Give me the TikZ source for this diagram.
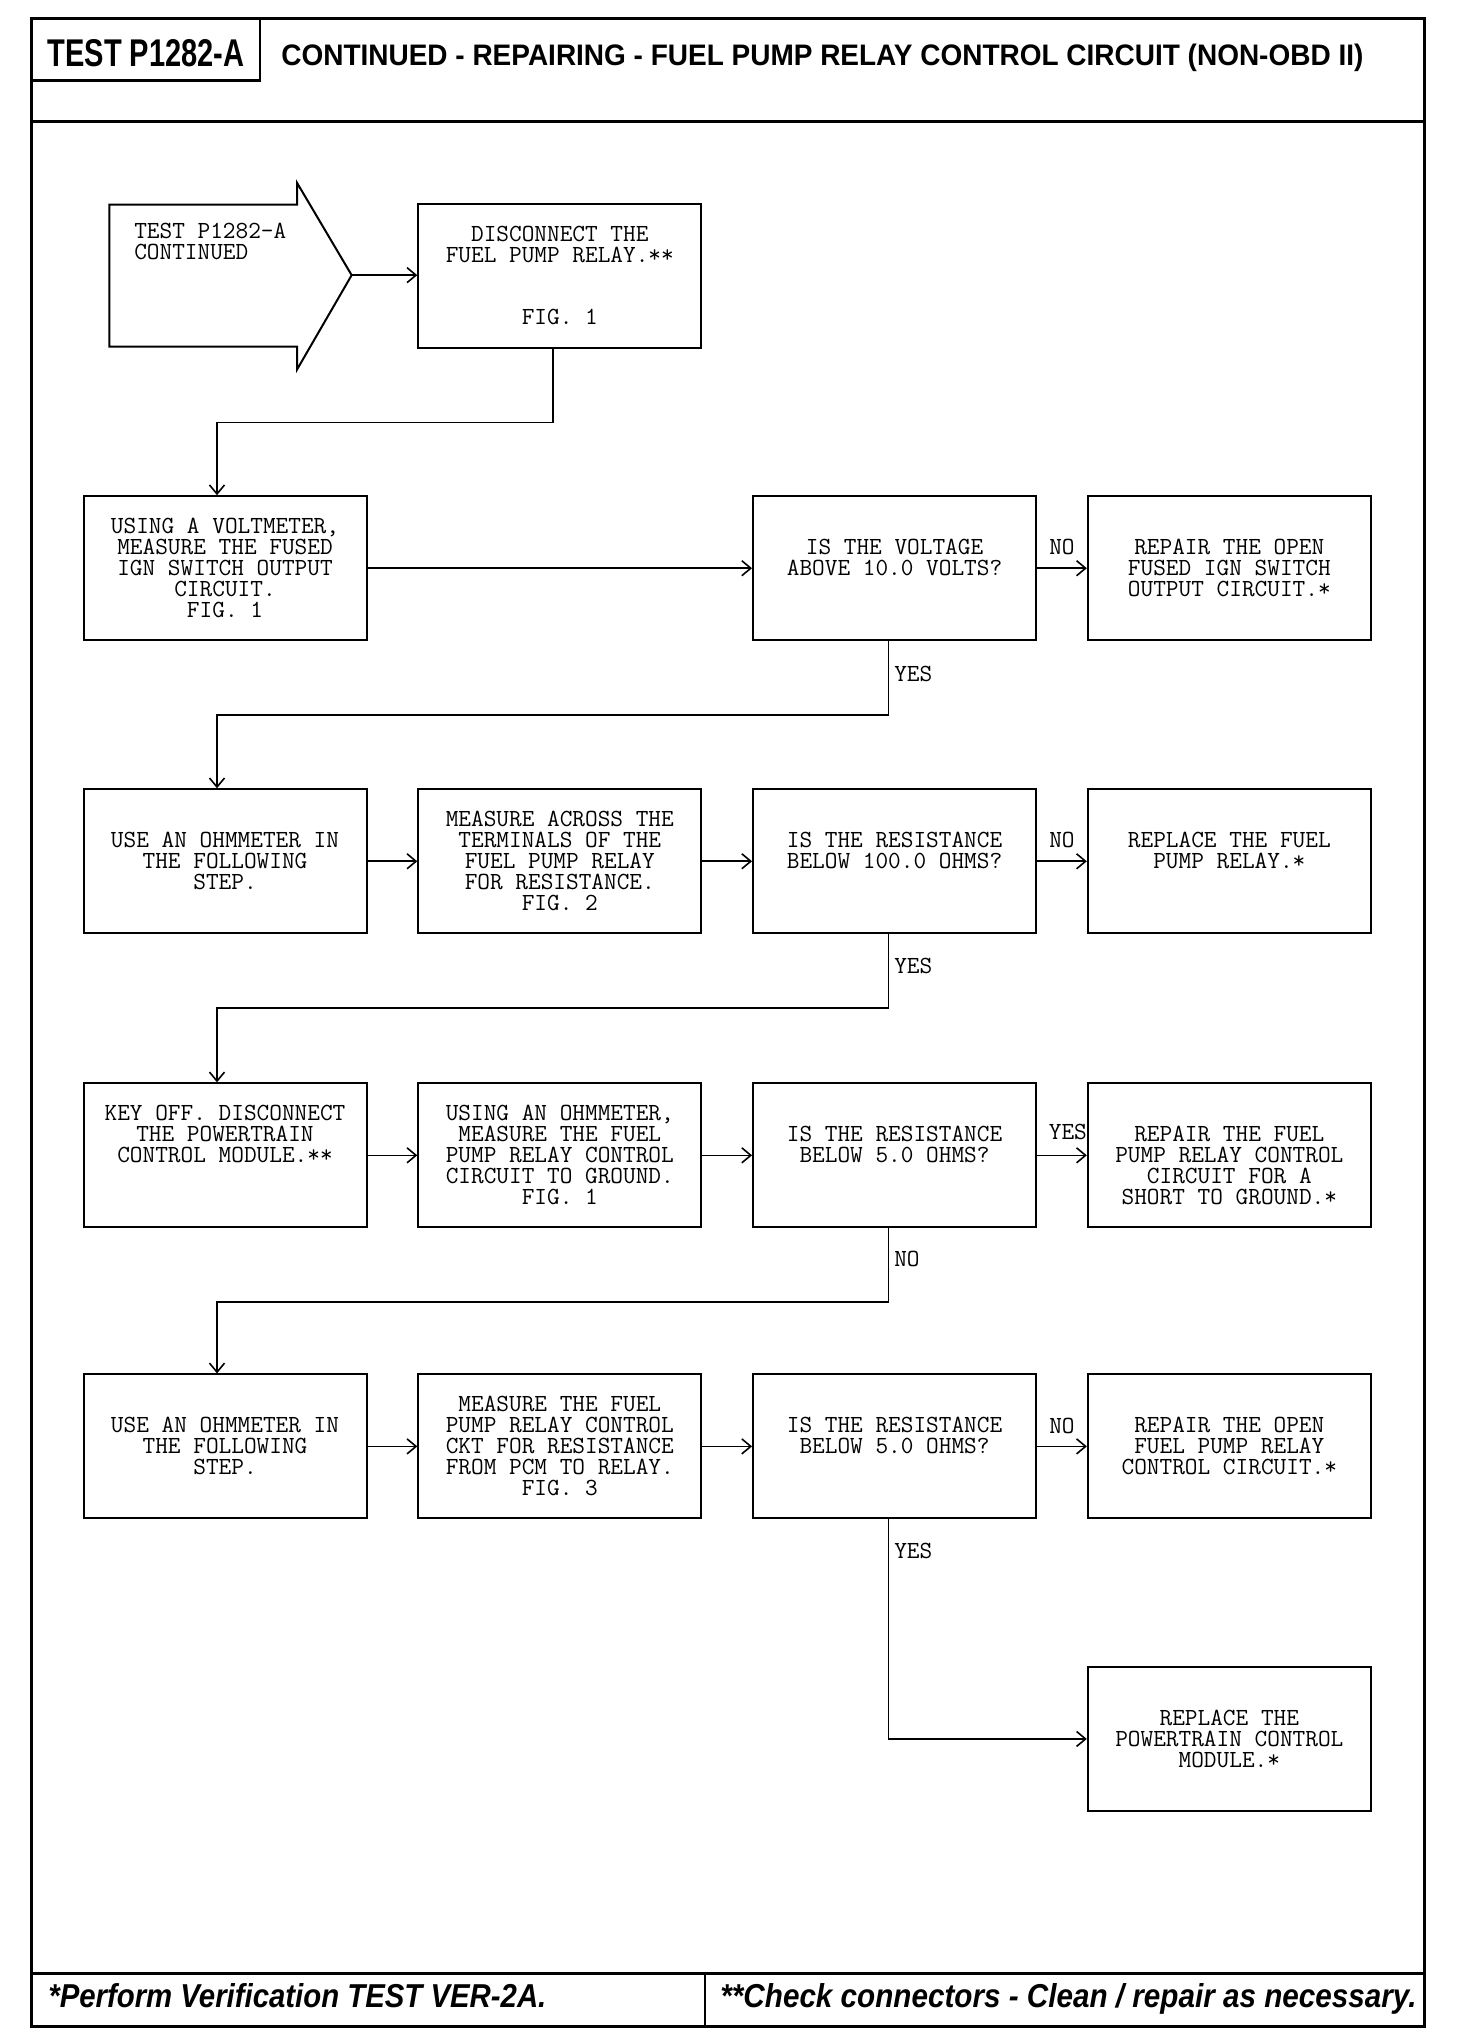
\documentclass[tikz,border=0pt]{standalone}
\usepackage{fontspec}
\usepackage{graphicx}
\usetikzlibrary{arrows.meta}
\newfontfamily\hdfont{Liberation Sans}
\newcommand\monof{\ttfamily\addfontfeatures{FakeBold=0.9}\fontsize{24.6}{20.9}\selectfont}
\tikzset{
  frame/.style={line width=3pt},
  thinframe/.style={line width=2.4pt},
  boxst/.style={draw, line width=2pt, minimum width=283pt, minimum height=144pt, inner sep=0pt, font=\monof},
  conn/.style={line width=1.6pt, -{Straight Barb[length=9pt,width=15pt,line width=1.6pt]}},
  lbl/.style={font=\monof, inner sep=0pt},
}
\newcommand\bxt[2]{\begin{minipage}[t][144pt][t]{283pt}\centering\vspace*{#1}\rule{0pt}{16pt}#2\end{minipage}}
\begin{document}
\begin{tikzpicture}[x=0.9934pt,y=-0.9934pt]
\useasboundingbox (0,0) rectangle (1465.7,2057.6);
% frame
\draw[frame] (31.5,18.4) rectangle (1433.7,2039.7);
\draw[frame] (31.5,122) -- (1433.7,122);
\draw[thinframe] (262,18.4) -- (262,81) -- (31.5,81);
\draw[frame] (31.5,1987) -- (1433.7,1987);
\draw[thinframe] (709.6,1987) -- (709.6,2039.7);
% header texts
\node[inner sep=0pt, anchor=base] (tt) at (147,67) {\resizebox{197pt}{27pt}{\hdfont\bfseries TEST P1282-A}};
\node[inner sep=0pt, anchor=base west] (ttl) at (283,65.6) {\resizebox{1082pt}{21.5pt}{\hdfont\bfseries CONTINUED - REPAIRING - FUEL PUMP RELAY CONTROL CIRCUIT (NON-OBD II)}};
% footer texts
\node[inner sep=0pt, anchor=base west] (fl) at (48.5,2021) {\resizebox{498pt}{24pt}{\hdfont\bfseries\itshape *Perform Verification TEST VER-2A.}};
\node[inner sep=0pt, anchor=base west] (fr) at (725,2021) {\resizebox{696pt}{24pt}{\hdfont\bfseries\itshape **Check connectors - Clean / repair as necessary.}};
% start arrow
\draw[line width=2pt] (110,206) -- (299,206) -- (299,184) -- (354,277) -- (299,372) -- (299,349) -- (110,349) -- cycle;
\coordinate (tip) at (354,277);
\node[lbl, anchor=north west, align=left] (st) at (135,224) {\rule{0pt}{16pt}TEST P1282-A\\CONTINUED};
% boxes
\node[boxst] (b0) at (563.5,278) {\bxt{21.2pt}{DISCONNECT THE\\FUEL PUMP RELAY.**\\[41.8pt]FIG. 1}};

\node[boxst] (bA1) at (226.5,572) {\bxt{21.5pt}{USING A VOLTMETER,\\MEASURE THE FUSED\\IGN SWITCH OUTPUT\\CIRCUIT.\\FIG. 1}};
\node[boxst] (bQ1) at (900.5,572) {\bxt{42.4pt}{IS THE VOLTAGE\\ABOVE 10.0 VOLTS?}};
\node[boxst] (bR1) at (1237.5,572) {\bxt{42.4pt}{REPAIR THE OPEN\\FUSED IGN SWITCH\\OUTPUT CIRCUIT.*}};

\node[boxst] (bA2) at (226.5,867) {\bxt{42.4pt}{USE AN OHMMETER IN\\THE FOLLOWING\\STEP.}};
\node[boxst] (bB2) at (563.5,867) {\bxt{21.5pt}{MEASURE ACROSS THE\\TERMINALS OF THE\\FUEL PUMP RELAY\\FOR RESISTANCE.\\FIG. 2}};
\node[boxst] (bQ2) at (900.5,867) {\bxt{42.4pt}{IS THE RESISTANCE\\BELOW 100.0 OHMS?}};
\node[boxst] (bR2) at (1237.5,867) {\bxt{42.4pt}{REPLACE THE FUEL\\PUMP RELAY.*}};

\node[boxst] (bA3) at (226.5,1163) {\bxt{21.5pt}{KEY OFF. DISCONNECT\\THE POWERTRAIN\\CONTROL MODULE.**}};
\node[boxst] (bB3) at (563.5,1163) {\bxt{21.5pt}{USING AN OHMMETER,\\MEASURE THE FUEL\\PUMP RELAY CONTROL\\CIRCUIT TO GROUND.\\FIG. 1}};
\node[boxst] (bQ3) at (900.5,1163) {\bxt{42.4pt}{IS THE RESISTANCE\\BELOW 5.0 OHMS?}};
\node[boxst] (bR3) at (1237.5,1163) {\bxt{42.4pt}{REPAIR THE FUEL\\PUMP RELAY CONTROL\\CIRCUIT FOR A\\SHORT TO GROUND.*}};

\node[boxst] (bA4) at (226.5,1456) {\bxt{42.4pt}{USE AN OHMMETER IN\\THE FOLLOWING\\STEP.}};
\node[boxst] (bB4) at (563.5,1456) {\bxt{21.5pt}{MEASURE THE FUEL\\PUMP RELAY CONTROL\\CKT FOR RESISTANCE\\FROM PCM TO RELAY.\\FIG. 3}};
\node[boxst] (bQ4) at (900.5,1456) {\bxt{42.4pt}{IS THE RESISTANCE\\BELOW 5.0 OHMS?}};
\node[boxst] (bR4) at (1237.5,1456) {\bxt{42.4pt}{REPAIR THE OPEN\\FUEL PUMP RELAY\\CONTROL CIRCUIT.*}};

\node[boxst] (bR5) at (1237.5,1750.5) {\bxt{42.4pt}{REPLACE THE\\POWERTRAIN CONTROL\\MODULE.*}};
% connectors
\draw[conn] (tip) -- (tip -| b0.west);
\draw[conn] ([xshift=-7pt]b0.south) -- ++(0,74) -| ([xshift=-8pt]bA1.north);
\draw[conn] (bA1.east) -- (bQ1.west);
\draw[conn] (bQ1.east) -- (bR1.west);
\draw[conn] ([xshift=-6pt]bQ1.south) -- ++(0,74) -| ([xshift=-8pt]bA2.north);
\draw[conn] (bA2.east) -- (bB2.west);
\draw[conn] (bB2.east) -- (bQ2.west);
\draw[conn] (bQ2.east) -- (bR2.west);
\draw[conn] ([xshift=-6pt]bQ2.south) -- ++(0,74) -| ([xshift=-8pt]bA3.north);
\draw[conn] (bA3.east) -- (bB3.west);
\draw[conn] (bB3.east) -- (bQ3.west);
\draw[conn] (bQ3.east) -- (bR3.west);
\draw[conn] ([xshift=-6pt]bQ3.south) -- ++(0,74) -| ([xshift=-8pt]bA4.north);
\draw[conn] (bA4.east) -- (bB4.west);
\draw[conn] (bB4.east) -- (bQ4.west);
\draw[conn] (bQ4.east) -- (bR4.west);
\draw[conn] ([xshift=-6pt]bQ4.south) |- (bR5.west);
% labels
\node[lbl] (n1) at (1069,551) {NO};
\node[lbl, anchor=west] (y1) at (900,678) {YES};
\node[lbl] (n2) at (1069,846) {NO};
\node[lbl, anchor=west] (y2) at (900,972) {YES};
\node[lbl] (y3) at (1075,1140) {YES};
\node[lbl, anchor=west] (n3) at (900,1267) {NO};
\node[lbl] (n4) at (1069,1435) {NO};
\node[lbl, anchor=west] (y4) at (900,1561) {YES};
\end{tikzpicture}
\end{document}
